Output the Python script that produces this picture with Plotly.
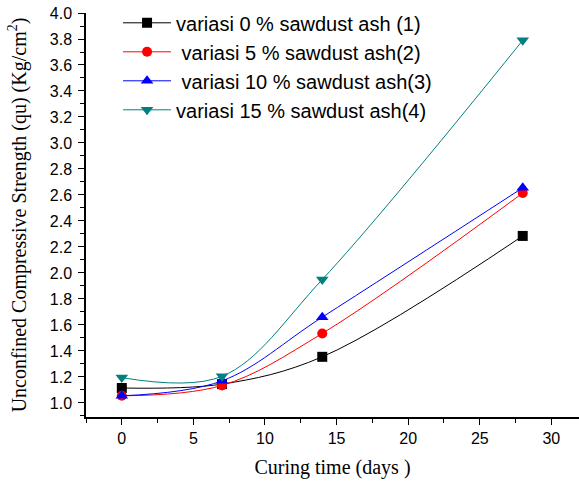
import plotly.graph_objects as go

days = [0, 7, 14, 28]
s1 = [1.115, 1.145, 1.355, 2.285]
s2 = [1.055, 1.135, 1.535, 2.615]
s3 = [1.055, 1.17, 1.66, 2.655]
s4 = [1.195, 1.205, 1.95, 3.79]
names = ["variasi 0 % sawdust ash (1)", " variasi 5 % sawdust ash(2)",
         " variasi 10 % sawdust ash(3)", "variasi 15 % sawdust ash(4)"]
colors = ["#000000", "#ff0000", "#0000ff", "#008080"]
symbols = ["square", "circle", "triangle-up", "triangle-down"]
sizes = [10, 10, 11, 11]
series = [s1, s2, s3, s4]

fig = go.Figure()
for name, ys, c, sym, sz in zip(names, series, colors, symbols, sizes):
    fig.add_trace(go.Scatter(
        x=days, y=ys, name=name, mode="lines+markers",
        line=dict(color=c, width=1, shape="spline", smoothing=1),
        marker=dict(symbol=sym, size=sz, color=c),
    ))

fig.update_layout(
    width=579, height=488,
    margin=dict(l=86, r=0, t=13, b=71, autoexpand=False),
    plot_bgcolor="white", paper_bgcolor="white",
    font=dict(family="Liberation Sans, Arial", size=16, color="black"),
    legend=dict(x=0.065, y=1.024, xanchor="left", yanchor="top",
                font=dict(family="Liberation Sans, Arial", size=20),
                bgcolor="rgba(0,0,0,0)", tracegroupgap=0, itemwidth=48),
    showlegend=True,
)
fig.update_xaxes(
    range=[-2.5, 31.93], tickvals=[0, 5, 10, 15, 20, 25, 30],
    ticks="outside", ticklen=6, tickwidth=1, tickcolor="black", automargin=False,
    tickfont=dict(size=16),
    minor=dict(dtick=2.5, tick0=0, ticks="outside", ticklen=4, tickcolor="black"),
    showline=True, linecolor="black", linewidth=1.5, showgrid=False, zeroline=False,
    title=dict(text="Curing time (days )", font=dict(family="Liberation Serif, Times New Roman", size=20), standoff=14),
)
fig.update_yaxes(
    range=[0.892, 4.0], tickvals=[1.0 + 0.2 * i for i in range(16)],
    tickformat=".1f", automargin=False,
    ticks="outside", ticklen=6, tickwidth=1, tickcolor="black",
    ticklabelstandoff=3,
    tickfont=dict(size=16),
    minor=dict(dtick=0.1, tick0=0, ticks="outside", ticklen=4, tickcolor="black"),
    showline=True, linecolor="black", linewidth=1.5, showgrid=False, zeroline=False,
    title=dict(text="Unconfined Compressive Strength (qu) (Kg/cm<sup>2</sup>)",
               font=dict(family="Liberation Serif, Times New Roman", size=20), standoff=18),
)
fig.write_html("out.html", config={"displayModeBar": False},
               post_script="document.body.style.margin='0';")
